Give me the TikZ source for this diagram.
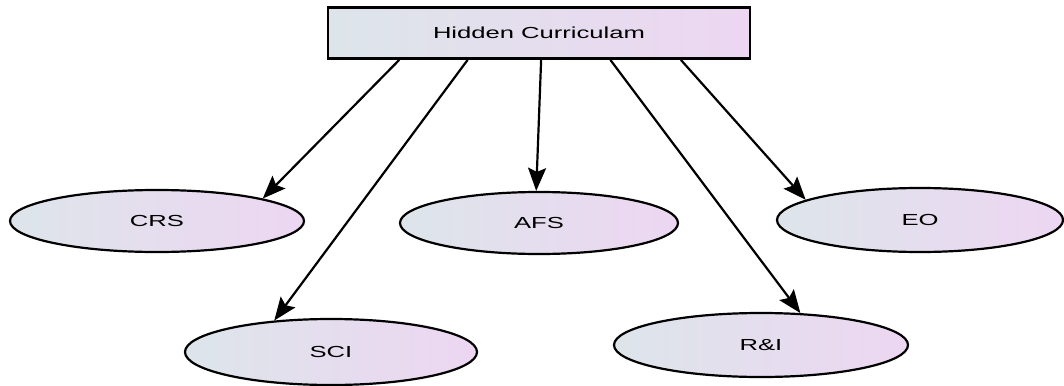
\documentclass[tikz,border=0pt]{standalone}
\usepackage{fontspec}
\setmainfont{Liberation Sans}
\usetikzlibrary{shapes.geometric,arrows.meta,calc}
\definecolor{gleft}{HTML}{DDE5EA}
\definecolor{gright}{HTML}{EDD6F2}
\newcommand{\wide}[1]{\scalebox{1.6}[1]{#1}}
\tikzset{
  topic/.style={ellipse, draw=black, line width=2.2pt, left color=gleft, right color=gright,
    inner sep=0pt, font=\fontsize{16}{18}\selectfont},
  headbox/.style={rectangle, draw=black, line width=2.8pt, left color=gleft, right color=gright,
    inner sep=0pt, font=\fontsize{16}{18}\selectfont},
  link/.style={line width=2.2pt, -{Stealth[length=23pt,width=18pt,inset=4pt]}}
}
\begin{document}
\begin{tikzpicture}[x=1pt,y=-1pt]
\useasboundingbox (0,0) rectangle (1064,385);
\node[headbox, minimum width=422pt, minimum height=51pt] (top) at (539,33) {\wide{Hidden Curriculam}};
\node[topic, minimum width=294pt, minimum height=62pt] (crs) at (157,221) {\wide{CRS}};
\node[topic, minimum width=278pt, minimum height=62pt] (afs) at (539,223) {\wide{AFS}};
\node[topic, minimum width=286pt, minimum height=64pt] (eo) at (920,220) {\wide{EO}};
\node[topic, minimum width=292pt, minimum height=66pt] (sci) at (331,352) {\wide{SCI}};
\node[topic, minimum width=294pt, minimum height=64pt] (ri) at (761,345) {\wide{R\&I}};
\draw[link] ($(top.south west)!0.171!(top.south east)$) -- (crs.12);
\draw[link] ($(top.south west)!0.332!(top.south east)$) -- (sci.151);
\draw[link] ($(top.south west)!0.505!(top.south east)$) -- (afs.95);
\draw[link] ($(top.south west)!0.668!(top.south east)$) -- (ri.39);
\draw[link] ($(top.south west)!0.834!(top.south east)$) -- (eo.170);
\end{tikzpicture}
\end{document}
